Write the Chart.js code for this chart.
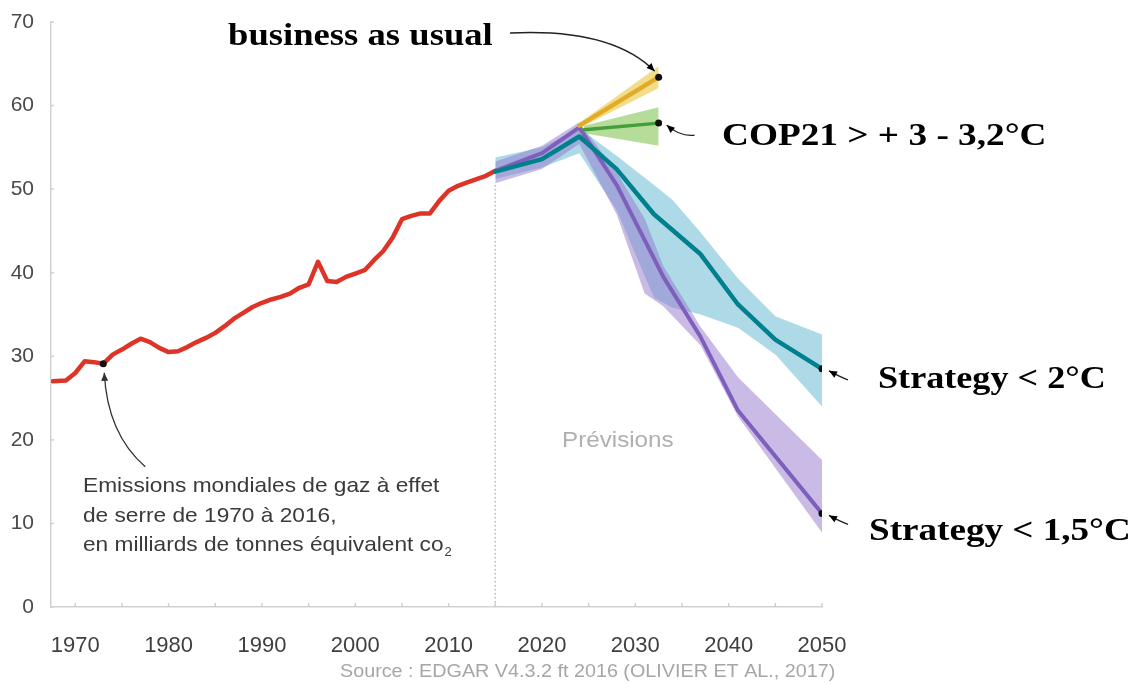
<!DOCTYPE html>
<html>
<head>
<meta charset="utf-8">
<script src="https://cdn.jsdelivr.net/npm/chart.js@4.4.1/dist/chart.umd.min.js"></script>
<style>
  html, body { margin: 0; padding: 0; background: #fff; }
  #wrap { width: 1135px; height: 684px; position: relative; }
</style>
</head>
<body>
<div id="wrap"><canvas id="emissionsChart"></canvas></div>
<script>
// historical emissions (Gt CO2 eq)
const histYears = [1967.6, 1969, 1970, 1971, 1972, 1973, 1974, 1975, 1976, 1977, 1978, 1979,
    1980, 1981, 1982, 1983, 1984, 1985, 1986, 1987, 1988, 1989, 1990, 1991, 1992, 1993,
    1994, 1995, 1996, 1997, 1998, 1999, 2000, 2001, 2002, 2003, 2004, 2005, 2006, 2007,
    2008, 2009, 2010, 2011, 2012, 2013, 2014, 2015];
const histValues = [27.0, 27.1, 28.0, 29.4, 29.3, 29.1, 30.2, 30.8, 31.5, 32.1, 31.7, 31.0,
    30.5, 30.6, 31.1, 31.7, 32.2, 32.8, 33.6, 34.5, 35.2, 35.9, 36.4, 36.8, 37.1, 37.5,
    38.2, 38.6, 41.3, 39.0, 38.9, 39.5, 39.9, 40.3, 41.5, 42.6, 44.2, 46.4, 46.8, 47.1,
    47.1, 48.6, 49.8, 50.4, 50.8, 51.2, 51.6, 52.2];
const histMarkYear = 1973;

// strategy < 2°C
const s2Years = [2015, 2020, 2024, 2028, 2032, 2037, 2041, 2045, 2050];
const s2Values = [52.1, 53.6, 56.3, 52.4, 47.0, 42.2, 36.2, 32.0, 28.5];
const s2BandYears = [2015, 2020, 2024, 2028, 2032, 2034, 2037, 2041, 2045, 2050];
const s2BandHigh = [53.8, 55.0, 57.3, 54.0, 50.5, 48.7, 44.8, 39.3, 34.8, 32.6];
const s2BandLow = [51.2, 52.6, 54.3, 47.5, 37.0, 35.8, 35.0, 33.4, 30.2, 24.0];

// strategy < 1,5°C
const s15Years = [2015, 2020, 2024, 2028, 2033, 2037, 2041, 2050];
const s15Values = [52.2, 54.3, 57.4, 50.5, 39.5, 32.3, 23.5, 11.2];
const s15BandYears = [2015, 2020, 2024, 2028, 2031, 2033, 2037, 2041, 2050];
const s15BandHigh = [53.3, 55.2, 58.0, 52.0, 46.5, 40.8, 33.5, 27.5, 17.6];
const s15BandLow = [50.7, 52.4, 55.4, 47.0, 37.5, 36.0, 31.3, 22.8, 8.9];

// COP21
const copYears = [2024.5, 2032.5];
const copValues = [57.1, 57.9];
const copHigh = [57.6, 59.8];
const copLow = [56.7, 55.2];

// business as usual
const bauYears = [2024, 2032.5];
const bauValues = [57.6, 63.4];
const bauHigh = [57.9, 64.7];
const bauLow = [57.3, 62.1];

const xTicks = [1970, 1980, 1990, 2000, 2010, 2020, 2030, 2040, 2050];
const xMinorTicks = [1970, 1975, 1980, 1985, 1990, 1995, 2000, 2005, 2010, 2015, 2020, 2025, 2030, 2035, 2040, 2045, 2050];
const yTicks = [0, 10, 20, 30, 40, 50, 60, 70];
const forecastStart = 2015;

const pts = (xs, ys) => xs.map((x, i) => ({ x: x, y: ys[i] }));
const endDot = (n) => (c) => (c.dataIndex === n - 1 ? 3.5 : 0);

function line(data, color, width, order, radius) {
    return {
        data: data, borderColor: color, borderWidth: width, order: order,
        pointRadius: radius || 0, pointBackgroundColor: '#111', pointBorderWidth: 0,
        borderJoinStyle: 'round', borderCapStyle: 'round', fill: false, tension: 0
    };
}
function band(data, color, order) {
    return {
        data: data, borderWidth: 0, borderColor: 'rgba(0,0,0,0)', backgroundColor: color,
        pointRadius: 0, order: order, fill: '+1', tension: 0
    };
}
function bandEdge(data, order) {
    return { data: data, borderWidth: 0, borderColor: 'rgba(0,0,0,0)', pointRadius: 0, order: order, fill: false };
}

function arrow(ctx, x0, y0, cx, cy, x1, y1) {
    ctx.beginPath();
    ctx.moveTo(x0, y0);
    ctx.quadraticCurveTo(cx, cy, x1, y1);
    ctx.stroke();
    const a = Math.atan2(y1 - cy, x1 - cx);
    const L = 8, W = 3.5;
    ctx.beginPath();
    ctx.moveTo(x1, y1);
    ctx.lineTo(x1 - L * Math.cos(a) + W * Math.sin(a), y1 - L * Math.sin(a) - W * Math.cos(a));
    ctx.lineTo(x1 - L * Math.cos(a) - W * Math.sin(a), y1 - L * Math.sin(a) + W * Math.cos(a));
    ctx.closePath();
    ctx.fill();
}

// text drawn a little wider than the font, like the scanned original
function wideText(ctx, text, x, y, sx) {
    ctx.save();
    ctx.translate(x, y);
    ctx.scale(sx, 1);
    ctx.fillText(text, 0, 0);
    ctx.restore();
}

const decorations = {
    id: 'decorations',
    beforeDatasetsDraw(chart) {
        const ctx = chart.ctx, xs = chart.scales.x, ys = chart.scales.y;
        ctx.save();
        ctx.strokeStyle = '#b8b8b8';
        ctx.lineWidth = 1.5;
        ctx.setLineDash([1.5, 2.5]);
        ctx.beginPath();
        ctx.moveTo(xs.getPixelForValue(forecastStart), ys.getPixelForValue(50.5));
        ctx.lineTo(xs.getPixelForValue(forecastStart), ys.getPixelForValue(0));
        ctx.stroke();
        ctx.restore();
    },
    afterDraw(chart) {
        const ctx = chart.ctx, xs = chart.scales.x, ys = chart.scales.y;
        const area = chart.chartArea;
        const px = v => xs.getPixelForValue(v), py = v => ys.getPixelForValue(v);
        ctx.save();

        // small inward tick marks
        ctx.strokeStyle = '#d0d0d0';
        ctx.lineWidth = 1.5;
        xMinorTicks.forEach(v => {
            ctx.beginPath();
            ctx.moveTo(px(v), area.bottom);
            ctx.lineTo(px(v), area.bottom - 4);
            ctx.stroke();
        });
        yTicks.forEach(v => {
            ctx.beginPath();
            ctx.moveTo(area.left, py(v));
            ctx.lineTo(area.left + 3, py(v));
            ctx.stroke();
        });

        // scenario labels
        ctx.fillStyle = '#000';
        ctx.strokeStyle = '#222';
        ctx.lineWidth = 1.3;
        ctx.font = 'bold 32px "Liberation Serif", "Times New Roman", serif';
        ctx.textBaseline = 'alphabetic';
        wideText(ctx, 'business as usual', 228, 45, 1.145);
        wideText(ctx, 'COP21 > + 3 - 3,2°C', 722, 145, 1.165);
        wideText(ctx, 'Strategy < 2°C', 878, 388, 1.13);
        wideText(ctx, 'Strategy < 1,5°C', 869, 540, 1.16);

        const bx = px(bauYears[1]), by = py(bauValues[1]);
        arrow(ctx, 510, 33, 612, 28, bx - 4, by - 6);
        const cx = px(copYears[1]), cy = py(copValues[1]);
        arrow(ctx, cx + 36, cy + 12, cx + 22, cy + 14, cx + 8, cy + 2);
        const tx = px(s2Years[s2Years.length - 1]), ty = py(s2Values[s2Values.length - 1]);
        arrow(ctx, tx + 26, ty + 11, tx + 18, ty + 8, tx + 7, ty + 2);
        const ux = px(s15Years[s15Years.length - 1]), uy = py(s15Values[s15Values.length - 1]);
        arrow(ctx, ux + 26, uy + 11, ux + 18, uy + 8, ux + 7, uy + 2);
        const hx = px(histMarkYear), hy = py(histValues[histYears.indexOf(histMarkYear)]);
        ctx.strokeStyle = '#333';
        ctx.fillStyle = '#333';
        arrow(ctx, hx + 42, hy + 103, hx + 4, hy + 70, hx + 1, hy + 9);

        // description
        ctx.fillStyle = '#3a3a3a';
        ctx.font = '21px "Liberation Sans", Arial, sans-serif';
        wideText(ctx, 'Emissions mondiales de gaz à effet', 83, 492, 1.08);
        wideText(ctx, 'de serre de 1970 à 2016,', 83, 522, 1.08);
        const l3 = 'en milliards de tonnes équivalent co';
        wideText(ctx, l3, 83, 551, 1.08);
        const w3 = ctx.measureText(l3).width * 1.08;
        ctx.font = '13px "Liberation Sans", Arial, sans-serif';
        ctx.fillText('2', 83 + w3 + 1, 556);

        ctx.fillStyle = '#b0b0b0';
        ctx.font = '22px "Liberation Sans", Arial, sans-serif';
        wideText(ctx, 'Prévisions', 562, 447, 1.1);

        ctx.fillStyle = '#a6a6a6';
        ctx.font = '19px "Liberation Sans", Arial, sans-serif';
        wideText(ctx, 'Source : EDGAR V4.3.2 ft 2016 (OLIVIER ET AL., 2017)', 340, 677, 1.04);
        ctx.restore();
    }
};

const ctx = document.getElementById('emissionsChart');
const data = {
    datasets: [
        band(pts(s2BandYears, s2BandHigh), 'rgba(125,196,218,0.62)', 10),
        bandEdge(pts(s2BandYears, s2BandLow), 10),
        band(pts(s15BandYears, s15BandHigh), 'rgba(150,120,205,0.5)', 9),
        bandEdge(pts(s15BandYears, s15BandLow), 9),
        band(pts(copYears, copHigh), 'rgba(150,205,110,0.7)', 8),
        bandEdge(pts(copYears, copLow), 8),
        band(pts(bauYears, bauHigh), 'rgba(238,210,100,0.75)', 8),
        bandEdge(pts(bauYears, bauLow), 8),
        line(pts(histYears, histValues), 'rgb(222,52,40)', 4.5, 2,
            (c) => (histYears[c.dataIndex] === histMarkYear ? 3.5 : 0)),
        line(pts(s15Years, s15Values), 'rgb(126,96,188)', 4, 3, endDot(s15Years.length)),
        line(pts(s2Years, s2Values), 'rgb(0,128,140)', 4.5, 1, endDot(s2Years.length)),
        line(pts(copYears, copValues), 'rgb(68,158,58)', 3.5, 2, endDot(copYears.length)),
        line(pts(bauYears, bauValues), 'rgb(226,172,40)', 4.5, 2, endDot(bauYears.length))
    ]
};
const config = {
    type: 'line',
    data: data,
    options: {
        responsive: true,
        maintainAspectRatio: false,
        animation: false,
        layout: { padding: { left: 0, right: 313, top: 22, bottom: 0 } },
        plugins: { legend: { display: false }, tooltip: { enabled: false } },
        scales: {
            x: {
                type: 'linear',
                min: 1967.4,
                max: 2050,
                afterBuildTicks: (axis) => { axis.ticks = xTicks.map(v => ({ value: v })); },
                afterFit: (axis) => { axis.height = 77; },
                grid: { display: false },
                border: { display: true, color: '#d2d2d2', width: 1.5 },
                ticks: {
                    padding: 18,
                    color: '#3f3f3f',
                    font: { family: '"Liberation Sans", Arial, sans-serif', size: 22 },
                    maxRotation: 0,
                    autoSkip: false,
                    callback: (v) => String(v)
                }
            },
            y: {
                min: 0,
                max: 70,
                afterBuildTicks: (axis) => { axis.ticks = yTicks.map(v => ({ value: v })); },
                afterFit: (axis) => { axis.width = 51; },
                grid: { display: false },
                border: { display: true, color: '#d2d2d2', width: 1.5 },
                ticks: {
                    padding: 9,
                    color: '#4a4a4a',
                    font: { family: '"Liberation Sans", Arial, sans-serif', size: 21 }
                }
            }
        }
    },
    plugins: [decorations]
};
new Chart(ctx, config);
</script>
</body>
</html>
